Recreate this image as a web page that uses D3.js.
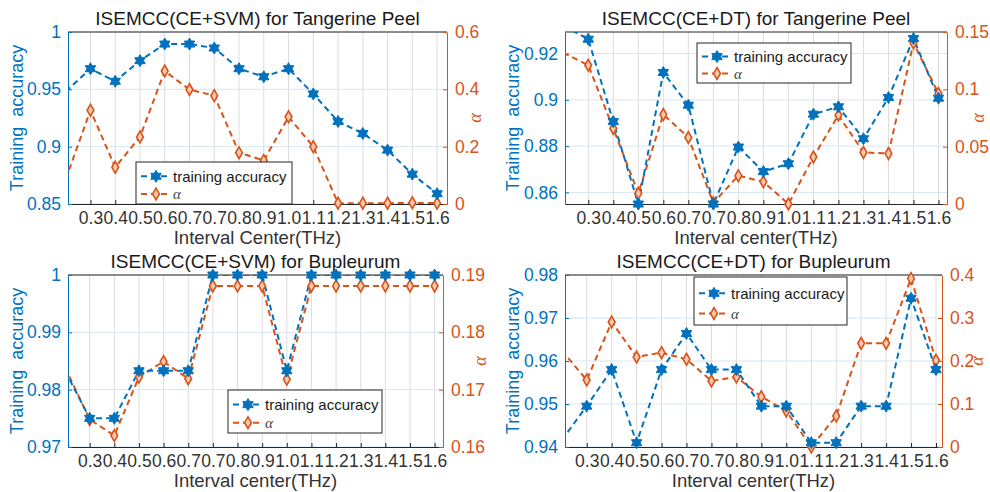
<!DOCTYPE html>
<html>
<head>
<meta charset="utf-8">
<script src="https://cdnjs.cloudflare.com/ajax/libs/d3/7.8.5/d3.min.js"></script>
<style>
  body { margin: 0; background: #fff; }
  svg { display: block; font-family: "Liberation Sans", Arial, sans-serif; }
</style>
</head>
<body>
<script>
// x positions: index 0 is the clipped point left of 0.3, 1..15 are the labelled ticks
var tickLabels = ["0.3", "0.4", "0.5", "0.6", "0.7", "0.7", "0.8", "0.9", "1.0", "1.1", "1.2", "1.3", "1.4", "1.5", "1.6"];

// ISEMCC(CE+SVM) Tangerine Peel
var svmPeelAcc = [0.948, 0.968, 0.957, 0.975, 0.9895, 0.9895, 0.986, 0.968, 0.961, 0.968, 0.946, 0.922, 0.9115, 0.897, 0.876, 0.859];
var svmPeelAlpha = [0.086, 0.327, 0.128, 0.234, 0.464, 0.399, 0.378, 0.179, 0.152, 0.304, 0.2, 0.003, 0.003, 0.003, 0.004, 0.003];

// ISEMCC(CE+DT) Tangerine Peel
var dtPeelAcc = [0.932, 0.9262, 0.8906, 0.855, 0.9118, 0.8977, 0.855, 0.8796, 0.869, 0.8724, 0.8938, 0.897, 0.8832, 0.901, 0.9265, 0.9007];
var dtPeelAlpha = [0.132, 0.121, 0.0659, 0.0093, 0.078, 0.058, 0.001, 0.0247, 0.0194, 0.0, 0.041, 0.0775, 0.045, 0.044, 0.1404, 0.0964];

// ISEMCC(CE+SVM) Bupleurum
var svmBupAcc = [0.9833, 0.975, 0.975, 0.9833, 0.9833, 0.9833, 1, 1, 1, 0.9833, 1, 1, 1, 1, 1, 1];
var svmBupAlpha = [0.1739, 0.1648, 0.162, 0.1722, 0.1749, 0.1719, 0.1881, 0.1881, 0.1881, 0.1718, 0.1881, 0.1881, 0.1881, 0.1881, 0.1881, 0.1881];

// ISEMCC(CE+DT) Bupleurum
var dtBupAcc = [0.9416, 0.9495, 0.958, 0.941, 0.958, 0.9664, 0.958, 0.958, 0.9495, 0.9495, 0.941, 0.941, 0.9495, 0.9495, 0.9746, 0.958];
var dtBupAlpha = [0.2244, 0.1558, 0.2907, 0.2093, 0.2194, 0.2039, 0.1535, 0.1628, 0.117, 0.0837, 0.0, 0.072, 0.241, 0.241, 0.392, 0.2016];

var blue = "#0072BD", orange = "#D95319", dark = "#262626";

var svg = d3.select("body").append("svg")
    .attr("width", 990)
    .attr("height", 492);

var panels = [
  { id: "p1", title: "ISEMCC(CE+SVM) for Tangerine Peel", xlabel: "Interval Center(THz)",
    left: 68, right: 447, top: 32, bottom: 204, xdom: [0.093, 15.4],
    ldom: [0.85, 1], lticks: [0.85, 0.9, 0.95, 1], rdom: [0, 0.6], rticks: [0, 0.2, 0.4, 0.6],
    acc: svmPeelAcc, alpha: svmPeelAlpha, legend: [136, 162, 156, 42], ylabX: 17, alabX: 476 },
  { id: "p2", title: "ISEMCC(CE+DT) for Tangerine Peel", xlabel: "Interval center(THz)",
    left: 565, right: 947, top: 32, bottom: 204, xdom: [0.07, 15.34],
    ldom: [0.855, 0.9293], lticks: [0.86, 0.88, 0.9, 0.92], rdom: [0, 0.15], rticks: [0, 0.05, 0.1, 0.15],
    acc: dtPeelAcc, alpha: dtPeelAlpha, legend: [697, 43, 154, 40], ylabX: 513, alabX: 979 },
  { id: "p3", title: "ISEMCC(CE+SVM) for Bupleurum", xlabel: "Interval center(THz)",
    left: 68, right: 443, top: 275, bottom: 447, xdom: [0.12, 15.34],
    ldom: [0.97, 1], lticks: [0.97, 0.98, 0.99, 1], rdom: [0.16, 0.19], rticks: [0.16, 0.17, 0.18, 0.19],
    acc: svmBupAcc, alpha: svmBupAlpha, legend: [228, 390, 154, 43], ylabX: 17, alabX: 481 },
  { id: "p4", title: "ISEMCC(CE+DT) for Bupleurum", xlabel: "Interval center(THz)",
    left: 565, right: 942, top: 275, bottom: 447, xdom: [0.13, 15.24],
    ldom: [0.94, 0.98], lticks: [0.94, 0.95, 0.96, 0.97, 0.98], rdom: [0, 0.4], rticks: [0, 0.1, 0.2, 0.3, 0.4],
    acc: dtBupAcc, alpha: dtBupAlpha, legend: [694, 277, 153, 48], ylabX: 513, alabX: 978 }
];

// six pointed star (hexagram)
function hexagram(r) {
  var pts = [];
  for (var i = 0; i < 12; i++) {
    var a = -Math.PI / 2 + i * Math.PI / 6;
    var rr = (i % 2 === 0) ? r : r * 0.58;
    pts.push([rr * Math.cos(a), rr * Math.sin(a)]);
  }
  return "M" + pts.map(function(p) { return p[0].toFixed(2) + "," + p[1].toFixed(2); }).join("L") + "Z";
}
var diamond = d3.symbol().type(d3.symbolDiamond).size(40)();

function fmt(d) { return String(+d.toFixed(4)); }

panels.forEach(drawPanel);

function drawPanel(p) {
  var x = d3.scaleLinear().domain(p.xdom).range([p.left, p.right]);
  var yl = d3.scaleLinear().domain(p.ldom).range([p.bottom, p.top]);
  var yr = d3.scaleLinear().domain(p.rdom).range([p.bottom, p.top]);
  var idx = d3.range(1, 16);
  var g = svg.append("g");

  svg.append("clipPath").attr("id", "clip-" + p.id)
    .append("rect")
      .attr("x", p.left).attr("y", p.top)
      .attr("width", p.right - p.left).attr("height", p.bottom - p.top);

  // grid
  g.selectAll(".vgrid").data(idx).enter().append("line")
      .attr("x1", function(d) { return x(d); }).attr("x2", function(d) { return x(d); })
      .attr("y1", p.top).attr("y2", p.bottom)
      .attr("stroke", "#dcdcdc").attr("stroke-width", 1);
  g.selectAll(".hgrid").data(p.lticks).enter().append("line")
      .attr("x1", p.left).attr("x2", p.right)
      .attr("y1", function(d) { return yl(d); }).attr("y2", function(d) { return yl(d); })
      .attr("stroke", "#d6e6f4").attr("stroke-width", 1);

  // axes
  var xAxis = g.append("g").attr("transform", "translate(0," + p.bottom + ")")
      .call(d3.axisBottom(x).tickValues(idx).tickSizeInner(-4).tickSizeOuter(0).tickPadding(8)
        .tickFormat(function(d) { return tickLabels[d - 1]; }));
  xAxis.select(".domain").attr("stroke", dark);
  xAxis.selectAll(".tick line").attr("stroke", dark);
  xAxis.selectAll("text").attr("fill", "#333").attr("font-size", 17.5)
      .attr("font-family", "Liberation Sans, Arial, sans-serif");

  g.append("line").attr("x1", p.left).attr("x2", p.right)
      .attr("y1", p.top).attr("y2", p.top).attr("stroke", dark);

  var lAxis = g.append("g").attr("transform", "translate(" + p.left + ",0)")
      .call(d3.axisLeft(yl).tickValues(p.lticks).tickSizeInner(-4).tickSizeOuter(0).tickPadding(7).tickFormat(fmt));
  lAxis.selectAll(".domain, .tick line").attr("stroke", blue);
  lAxis.selectAll("text").attr("fill", blue).attr("font-size", 17.5)
      .attr("font-family", "Liberation Sans, Arial, sans-serif");

  var rAxis = g.append("g").attr("transform", "translate(" + p.right + ",0)")
      .call(d3.axisRight(yr).tickValues(p.rticks).tickSizeInner(-4).tickSizeOuter(0).tickPadding(8).tickFormat(fmt));
  rAxis.selectAll(".domain, .tick line").attr("stroke", orange);
  rAxis.selectAll("text").attr("fill", orange).attr("font-size", 17.5)
      .attr("font-family", "Liberation Sans, Arial, sans-serif");

  // titles and labels
  g.append("text").attr("x", (p.left + p.right) / 2).attr("y", p.top - 7)
      .attr("text-anchor", "middle").attr("font-size", 19).attr("fill", "#1a1a1a")
      .text(p.title);
  g.append("text").attr("x", (p.left + p.right) / 2).attr("y", p.bottom + 40)
      .attr("text-anchor", "middle").attr("font-size", 18.5).attr("fill", "#333")
      .text(p.xlabel);
  g.append("text")
      .attr("transform", "translate(" + p.ylabX + "," + ((p.top + p.bottom) / 2) + ") rotate(-90)")
      .attr("text-anchor", "middle").attr("dy", "0.35em").attr("font-size", 18).attr("fill", blue)
      .style("white-space", "pre")
      .text("Training  accuracy");
  g.append("text")
      .attr("transform", "translate(" + p.alabX + "," + ((p.top + p.bottom) / 2) + ") rotate(-90)")
      .attr("text-anchor", "middle").attr("dy", "0.25em").attr("font-size", 18).attr("fill", orange)
      .attr("font-family", "Liberation Serif, serif").attr("font-style", "italic")
      .text("α");

  // series
  var data = d3.range(0, 16);
  var plot = g.append("g").attr("clip-path", "url(#clip-" + p.id + ")");
  var accLine = d3.line().x(function(d) { return x(d); }).y(function(d) { return yl(p.acc[d]); });
  var alphaLine = d3.line().x(function(d) { return x(d); }).y(function(d) { return yr(p.alpha[d]); });

  plot.append("path").datum(data).attr("d", alphaLine)
      .attr("fill", "none").attr("stroke", orange).attr("stroke-width", 2).attr("stroke-dasharray", "6,4");
  plot.append("path").datum(data).attr("d", accLine)
      .attr("fill", "none").attr("stroke", blue).attr("stroke-width", 2).attr("stroke-dasharray", "6,4");

  g.selectAll(".dia").data(idx).enter().append("path")
      .attr("d", diamond)
      .attr("transform", function(d) { return "translate(" + x(d) + "," + yr(p.alpha[d]) + ")"; })
      .attr("fill", "#f3c9b0").attr("stroke", orange).attr("stroke-width", 1.6);
  g.selectAll(".star").data(idx).enter().append("path")
      .attr("d", hexagram(6))
      .attr("transform", function(d) { return "translate(" + x(d) + "," + yl(p.acc[d]) + ")"; })
      .attr("fill", blue).attr("stroke", blue).attr("stroke-width", 1);

  // legend
  var lg = p.legend;
  var leg = g.append("g").attr("transform", "translate(" + lg[0] + "," + lg[1] + ")");
  leg.append("rect").attr("width", lg[2]).attr("height", lg[3])
      .attr("fill", "#fff").attr("stroke", dark).attr("stroke-width", 1);
  var items = [
    { name: "training accuracy", color: blue, mark: "star" },
    { name: "α", color: orange, mark: "dia" }
  ];
  items.forEach(function(it, i) {
    var cy = lg[3] * (i === 0 ? 0.34 : 0.76);
    leg.append("line").attr("x1", 5).attr("x2", 35).attr("y1", cy).attr("y2", cy)
        .attr("stroke", it.color).attr("stroke-width", 2).attr("stroke-dasharray", "6,4");
    leg.append("path")
        .attr("d", it.mark === "star" ? hexagram(6) : diamond)
        .attr("transform", "translate(20," + cy + ")")
        .attr("fill", it.mark === "star" ? blue : "#f3c9b0")
        .attr("stroke", it.color).attr("stroke-width", it.mark === "star" ? 1 : 1.6);
    var t = leg.append("text").attr("x", 37).attr("y", cy).attr("dy", "0.35em")
        .attr("font-size", 15).attr("fill", "#1a1a1a").text(it.name);
    if (it.mark === "dia") {
      t.attr("font-family", "Liberation Serif, serif").attr("font-style", "italic").attr("fill", "#444");
    }
  });
}
</script>
</body>
</html>
